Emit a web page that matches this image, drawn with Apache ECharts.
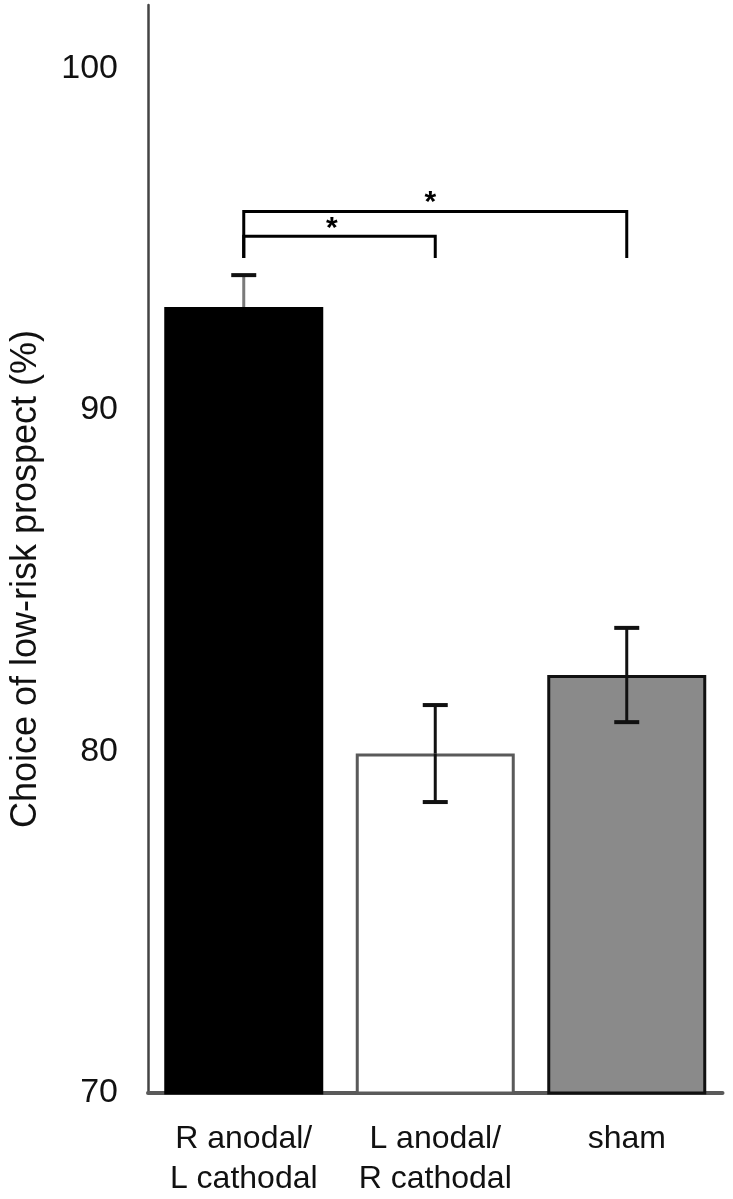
<!DOCTYPE html>
<html><head><meta charset="utf-8">
<script src="https://cdn.jsdelivr.net/npm/echarts@6/dist/echarts.min.js"></script>
<style>html,body{margin:0;padding:0;background:#fff}#c{width:733px;height:1199px}</style>
</head><body><div id="c"></div>
<script>
const categories = ['R anodal/\nL cathodal', 'L anodal/\nR cathodal', 'sham'];
const means = [93.02, 79.94, 82.24];
const errors = [0.93, 1.42, 1.38];
const yTicks = [70, 80, 90, 100];
// brackets: [fromIndex, toIndex, lineY, endY]
const brackets = [[0, 2, 95.81, 94.45], [0, 1, 95.09, 94.45]];
// stars: [fromIndex, toIndex, fraction along bracket, y, text]
const stars = [[0, 2, 0.487, 96.08, '*'], [0, 1, 0.46, 95.3, '*']];

const barStyles = [
  {color: '#000000', borderColor: '#000000', borderWidth: 3},
  {color: '#ffffff', borderColor: '#5a5a5a', borderWidth: 3},
  {color: '#8a8a8a', borderColor: '#111111', borderWidth: 3}
];
const errUpper = ['#7a7a7a', '#111111', '#111111'];
const errLower = ['#000000', '#111111', '#111111'];
const FONT = 'Liberation Sans, Arial, sans-serif';

const chart = echarts.init(document.getElementById('c'), null, {renderer: 'canvas'});
chart.setOption({
  animation: false,
  grid: {left: 148, right: 10.5, top: 5, bottom: 98, containLabel: false},
  xAxis: {
    type: 'category', data: categories,
    axisLine: {lineStyle: {color: '#5a5a5a', width: 4}},
    axisTick: {show: false},
    axisLabel: {color: '#111', fontSize: 32, fontFamily: FONT, lineHeight: 40, margin: 26, interval: 0}
  },
  yAxis: {
    type: 'value', min: 70, max: 101.86, interval: 10,
    axisLine: {show: true, lineStyle: {color: '#444', width: 2.5}},
    axisTick: {show: false},
    splitLine: {show: false},
    axisLabel: {color: '#111', fontSize: 34, fontFamily: FONT, margin: 30, padding: [0, 0, 12, 0],
      formatter: v => yTicks.indexOf(v) >= 0 ? String(v) : ''},
    name: 'Choice of low-risk prospect (%)', nameLocation: 'middle', nameGap: 104,
    nameTextStyle: {color: '#111', fontSize: 36, fontFamily: FONT, padding: [0, 60, 0, 0]}
  },
  series: [
    {
      type: 'bar', barWidth: 159,
      data: means.map((v, i) => ({value: v, itemStyle: barStyles[i]}))
    },
    {
      type: 'custom',
      data: means.map((v, i) => [i, v, errors[i]]),
      renderItem: (params, api) => {
        const i = api.value(0), m = api.value(1), e = api.value(2);
        const top = api.coord([i, m + e]);
        const mid = api.coord([i, m]);
        const bot = api.coord([i, m - e]);
        const hw = 12.5;
        return {type: 'group', children: [
          {type: 'line', shape: {x1: top[0], y1: top[1], x2: mid[0], y2: mid[1]}, style: {stroke: errUpper[i], lineWidth: 3}},
          {type: 'line', shape: {x1: mid[0], y1: mid[1], x2: bot[0], y2: bot[1]}, style: {stroke: errLower[i], lineWidth: 3}},
          {type: 'line', shape: {x1: top[0] - hw, y1: top[1], x2: top[0] + hw, y2: top[1]}, style: {stroke: '#111', lineWidth: 4}},
          {type: 'line', shape: {x1: bot[0] - hw, y1: bot[1], x2: bot[0] + hw, y2: bot[1]}, style: {stroke: errLower[i] === '#000000' ? '#000' : '#111', lineWidth: 4}}
        ]};
      },
      z: 5
    },
    {
      type: 'custom',
      data: brackets,
      renderItem: (params, api) => {
        const a = api.coord([api.value(0), api.value(2)]);
        const b = api.coord([api.value(1), api.value(2)]);
        const ad = api.coord([api.value(0), api.value(3)]);
        const bd = api.coord([api.value(1), api.value(3)]);
        return {type: 'polyline', shape: {points: [ad, a, b, bd]},
          style: {stroke: '#000', lineWidth: 3, fill: null}};
      },
      z: 6
    },
    {
      type: 'custom',
      data: stars.map(s => s.slice(0, 4)),
      renderItem: (params, api) => {
        const a = api.coord([api.value(0), api.value(3)]);
        const b = api.coord([api.value(1), api.value(3)]);
        const f = api.value(2);
        return {type: 'text', x: a[0] + (b[0] - a[0]) * f, y: a[1],
          style: {text: stars[params.dataIndex][4], fill: '#000', font: 'bold 30px ' + FONT, align: 'center', verticalAlign: 'middle'}};
      },
      z: 6
    }
  ]
});
</script></body></html>
